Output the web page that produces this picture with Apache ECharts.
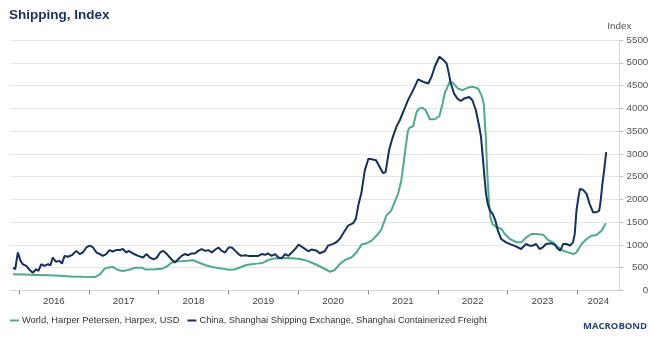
<!DOCTYPE html>
<html><head><meta charset="utf-8">
<script src="https://cdn.jsdelivr.net/npm/echarts@6/dist/echarts.min.js"></script>
<style>html,body{margin:0;padding:0;background:#fff}#c{width:652px;height:346px}</style>
</head><body><div id="c"></div>
<script>
const chartTitle = 'Shipping, Index';
const yAxisName = 'Index';
const seriesNames = ['World, Harper Petersen, Harpex, USD', 'China, Shanghai Shipping Exchange, Shanghai Containerized Freight'];
const yearTicks = [2016, 2017, 2018, 2019, 2020, 2021, 2022, 2023, 2024];

const harpexDates = ['2015-12-01','2016-02-01','2016-04-01','2016-06-01','2016-08-01','2016-10-01','2016-12-01','2017-02-02','2017-02-28','2017-03-25','2017-04-15','2017-05-06','2017-06-02','2017-06-28','2017-07-25','2017-09-01','2017-10-06','2017-10-24','2017-12-15','2018-01-19','2018-02-13','2018-03-09','2018-04-01','2018-05-01','2018-06-01','2018-07-01','2018-08-01','2018-09-01','2018-10-01','2018-11-01','2018-12-01','2019-01-01','2019-02-01','2019-03-01','2019-04-01','2019-05-01','2019-06-01','2019-07-01','2019-08-01','2019-09-01','2019-10-01','2019-11-01','2019-12-01','2020-01-10','2020-02-14','2020-03-28','2020-05-10','2020-06-15','2020-07-11','2020-08-06','2020-09-02','2020-10-07','2020-11-02','2020-11-28','2020-12-24','2021-01-20','2021-02-15','2021-03-11','2021-04-07','2021-05-03','2021-05-20','2021-06-07','2021-06-24','2021-07-06','2021-07-17','2021-07-29','2021-08-07','2021-08-25','2021-09-12','2021-09-25','2021-10-13','2021-10-30','2021-11-20','2021-12-16','2022-01-09','2022-01-26','2022-02-08','2022-02-16','2022-03-04','2022-03-21','2022-04-16','2022-05-12','2022-06-08','2022-07-04','2022-07-31','2022-08-17','2022-08-29','2022-09-09','2022-09-16','2022-09-25','2022-10-03','2022-10-14','2022-11-04','2022-11-30','2022-12-17','2023-01-13','2023-02-17','2023-03-13','2023-04-09','2023-05-05','2023-06-01','2023-07-05','2023-08-01','2023-08-27','2023-09-22','2023-10-18','2023-11-14','2023-12-10','2023-12-27','2024-01-23','2024-02-18','2024-03-15','2024-04-10','2024-05-06','2024-05-29'];
const harpexValues = [355,350,343,333,322,310,300,296,355,480,505,517,450,430,450,500,500,460,465,480,525,610,635,645,655,665,610,560,520,500,480,455,460,505,555,575,590,610,675,705,710,712,710,692,656,582,494,413,450,582,670,729,839,1008,1037,1096,1206,1331,1646,1757,1940,2124,2417,2784,3151,3518,3577,3606,3922,3995,4010,3958,3760,3760,3826,4105,4362,4420,4581,4559,4434,4397,4456,4471,4434,4287,4104,3370,2636,1975,1608,1461,1388,1351,1241,1131,1057,1057,1168,1241,1241,1226,1109,1057,948,874,837,801,837,1021,1131,1204,1219,1314,1476];

const scfiDates = ['2015-12-01','2015-12-12','2015-12-26','2016-01-09','2016-01-21','2016-02-08','2016-02-26','2016-03-13','2016-03-31','2016-04-12','2016-04-26','2016-05-13','2016-06-01','2016-06-14','2016-06-26','2016-07-13','2016-08-01','2016-08-13','2016-08-27','2016-09-14','2016-10-04','2016-10-27','2016-11-14','2016-12-01','2016-12-19','2017-01-06','2017-01-23','2017-02-10','2017-02-28','2017-03-15','2017-04-02','2017-04-19','2017-05-06','2017-05-24','2017-06-11','2017-06-28','2017-07-16','2017-07-28','2017-08-20','2017-09-16','2017-10-12','2017-10-29','2017-11-16','2017-12-04','2017-12-21','2018-01-09','2018-01-26','2018-02-13','2018-03-09','2018-03-27','2018-04-13','2018-05-01','2018-05-18','2018-06-05','2018-06-22','2018-07-10','2018-07-27','2018-08-14','2018-09-01','2018-09-18','2018-10-06','2018-10-23','2018-11-10','2018-11-27','2018-12-15','2019-01-02','2019-01-19','2019-02-06','2019-02-23','2019-03-10','2019-03-28','2019-04-15','2019-05-11','2019-06-06','2019-06-24','2019-07-11','2019-07-28','2019-08-15','2019-09-02','2019-09-19','2019-10-07','2019-10-24','2019-11-11','2019-11-28','2019-12-16','2020-01-03','2020-01-10','2020-02-05','2020-02-22','2020-03-10','2020-04-05','2020-04-23','2020-05-19','2020-06-06','2020-07-02','2020-07-19','2020-08-06','2020-08-24','2020-09-19','2020-10-15','2020-10-29','2020-11-11','2020-11-28','2020-12-15','2021-01-03','2021-01-20','2021-02-12','2021-03-03','2021-03-20','2021-04-03','2021-04-21','2021-05-08','2021-05-29','2021-06-16','2021-07-11','2021-07-29','2021-08-25','2021-09-20','2021-10-16','2021-11-12','2021-11-29','2021-12-16','2022-01-09','2022-01-30','2022-02-16','2022-02-24','2022-03-10','2022-03-27','2022-04-14','2022-05-01','2022-05-19','2022-06-14','2022-07-01','2022-07-19','2022-08-06','2022-08-15','2022-08-24','2022-09-02','2022-09-10','2022-09-19','2022-10-01','2022-10-15','2022-10-29','2022-11-11','2022-11-28','2022-12-24','2023-01-20','2023-02-16','2023-03-12','2023-04-08','2023-04-25','2023-05-12','2023-05-30','2023-06-17','2023-07-04','2023-07-21','2023-08-17','2023-09-04','2023-09-22','2023-10-04','2023-10-18','2023-11-05','2023-11-22','2023-12-09','2023-12-18','2023-12-27','2024-01-05','2024-01-14','2024-01-31','2024-02-18','2024-03-05','2024-03-23','2024-04-10','2024-04-24','2024-05-01','2024-05-11','2024-05-20','2024-05-31'];
const scfiValues = [500,465,835,650,576,540,450,390,465,430,576,540,576,555,724,628,650,590,760,740,775,870,800,835,945,983,945,835,800,760,800,887,857,887,887,910,835,870,813,760,724,800,724,687,710,835,870,800,687,613,687,760,800,775,813,813,870,910,870,887,835,894,945,870,835,945,945,870,800,760,775,760,760,760,800,783,813,760,800,724,710,800,760,835,910,1010,986,913,861,898,876,817,861,986,1023,1059,1133,1257,1426,1478,1573,1867,2160,2637,2894,2880,2858,2711,2579,2600,3078,3335,3592,3738,3995,4179,4399,4634,4583,4546,4693,4913,5133,5060,4986,4838,4544,4324,4214,4162,4214,4250,4177,3957,3590,3370,2929,2489,2122,1902,1755,1681,1535,1314,1131,1057,1006,962,911,1021,984,984,1021,911,948,1021,1035,1006,911,874,1021,1021,984,1057,1241,1755,2012,2232,2210,2122,1902,1718,1718,1755,1938,2342,2636,3039];

function decYear(s) {
  const p = s.split('-').map(Number);
  const t = Date.UTC(p[0], p[1] - 1, p[2]);
  const a = Date.UTC(p[0], 0, 1), b = Date.UTC(p[0] + 1, 0, 1);
  return p[0] + (t - a) / (b - a);
}
const pairs = (d, v) => d.map((s, i) => [decYear(s), v[i]]);

const X_MIN = 2015.878, X_MAX = 2024.60;
const labelPos = yearTicks.map(y => (y + Math.min(y + 1, X_MAX)) / 2);

const NAVY = '#13305f', GREEN = '#4fa98a';
const chart = echarts.init(document.getElementById('c'), null, {renderer: 'canvas'});
chart.setOption({
  animation: false,
  backgroundColor: '#fff',
  textStyle: {fontFamily: 'Liberation Sans, Arial, sans-serif'},
  title: {text: chartTitle, left: 4, top: 3, textStyle: {fontSize: 13.5, fontWeight: 'bold', color: '#1b2f5e', fontFamily: 'Liberation Sans, Arial, sans-serif'}},
  grid: {left: 10.5, right: 32.7, top: 40, bottom: 55.5, containLabel: false},
  legend: {
    left: 5, top: 311, icon: 'rect', itemWidth: 9, itemHeight: 2, itemGap: 8,
    textStyle: {fontSize: 9.3, color: '#333', padding: [0, 0, 0, -2]},
    data: seriesNames
  },
  xAxis: {
    type: 'value', min: X_MIN, max: X_MAX,
    splitLine: {show: false},
    axisLine: {show: true, lineStyle: {color: '#d4d4d4'}},
    axisTick: {show: true, length: 4, lineStyle: {color: '#888'}, customValues: yearTicks},
    axisLabel: {customValues: labelPos, formatter: v => String(Math.floor(v + 1e-9)), fontSize: 9.8, color: '#444', margin: 6}
  },
  yAxis: {
    type: 'value', position: 'right', min: 0, max: 5500, interval: 500,
    name: yAxisName, nameLocation: 'end', nameGap: 9,
    nameTextStyle: {fontSize: 9.8, color: '#555', align: 'center', verticalAlign: 'bottom'},
    splitLine: {show: true, lineStyle: {color: '#e6e6e6'}},
    axisLine: {show: true, lineStyle: {color: '#dcdcdc'}},
    axisTick: {show: true, length: 4, lineStyle: {color: '#bbb'}},
    axisLabel: {fontSize: 9.8, color: '#555', align: 'right', margin: 29, formatter: v => String(v)}
  },
  series: [
    {name: seriesNames[0], type: 'line', data: pairs(harpexDates, harpexValues), showSymbol: false, symbol: 'none', lineStyle: {width: 2, color: GREEN}, itemStyle: {color: GREEN}},
    {name: seriesNames[1], type: 'line', data: pairs(scfiDates, scfiValues), showSymbol: false, symbol: 'none', lineStyle: {width: 2, color: NAVY}, itemStyle: {color: NAVY}}
  ],
  graphic: [
    {type: 'text', left: 583, top: 321, style: {text: 'MACROBOND', fontSize: 9.5, fontWeight: 'bold', fill: '#26467e', fontFamily: 'Open Sans, sans-serif'}}
  ]
});
</script></body></html>
